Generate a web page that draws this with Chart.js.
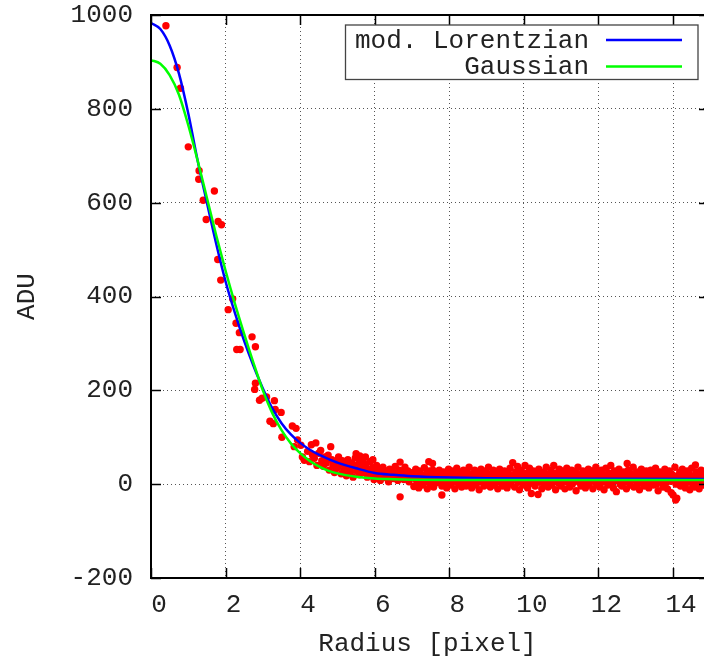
<!DOCTYPE html>
<html><head><meta charset="utf-8">
<script src="https://cdn.jsdelivr.net/npm/chart.js@4.4.0/dist/chart.umd.min.js"></script>
<style>html,body{margin:0;padding:0;background:#fff}canvas{display:block}</style>
</head><body>
<canvas id="c" width="708" height="664"></canvas>
<script>
// ---- data ----
const xTickValues = [0, 2, 4, 6, 8, 10, 12, 14];
const yTickValues = [-200, 0, 200, 400, 600, 800, 1000];
const seriesNames = ['mod. Lorentzian', 'Gaussian'];
const axisTitles = { x: 'Radius [pixel]', y: 'ADU' };

// fitted curves
const curveRadius = [0,0.25,0.5,0.75,1,1.25,1.5,1.75,2,2.25,2.5,2.75,3,3.25,3.5,3.75,4,4.25,4.5,4.75,5,5.5,6,6.5,7,8,9,10,12,15];
const lorentzADU  = [983,970,935,875,790,690,600,512,432,365,305,252,204,162,130,106,88,74,63,54,46,34,24,20,17,14,12.5,12,11.5,11];
const gaussADU    = [904,896,872,830,765,690,610,530,455,385,320,258,200,152,115,87,66,50,38,29,23,16,12,10.5,9.5,9,9,9,9,9];

// measured pixel values (radius, ADU)
const pointRadius = [
0.40,0.70,0.79,1.00,1.29,1.28,1.70,1.40,1.48,1.80,1.89,1.79,1.87,2.19,2.07,2.28,2.37,2.71,2.80,2.30,2.39,2.80,2.78,2.91,2.98,3.10,3.31,3.33,3.49,3.19,3.28,3.79,3.89,3.51,3.93,4.02,3.84,4.06,4.11,
4.20,4.25,4.30,4.33,4.38,4.42,4.45,4.50,4.55,4.58,4.62,4.66,4.70,4.75,4.78,4.82,4.85,4.88,4.92,4.95,5.00,5.03,5.06,5.10,5.13,5.17,5.20,5.24,5.28,5.31,5.35,5.38,5.42,5.45,5.48,5.52,5.55,5.59,5.62,5.65,5.70,5.73,5.76,5.80,5.84,5.87,5.91,5.94,5.98,
5.50,5.60,5.75,5.95,
6.01,6.05,6.08,6.12,6.15,6.19,6.22,6.26,6.30,6.33,6.37,6.40,6.44,6.48,6.51,6.55,6.58,6.62,6.66,6.68,6.68,6.70,6.74,6.78,6.81,6.85,6.89,6.92,6.96,7.00,7.45,7.55,
7.03,7.05,7.08,7.10,7.13,7.15,7.18,7.20,7.23,7.25,7.28,7.31,7.33,7.36,7.38,7.41,7.43,7.46,7.48,7.51,7.53,7.56,7.58,7.61,7.63,7.66,7.80,7.70,7.73,7.75,7.78,7.80,7.83,7.85,7.88,7.90,7.93,7.95,7.98,
8.00,8.03,8.05,8.08,8.10,8.13,8.15,8.18,8.20,8.23,8.25,8.28,8.30,8.33,8.35,8.38,8.40,8.43,8.45,8.48,8.50,8.53,8.55,8.58,8.60,8.63,8.65,8.68,8.70,8.73,8.75,8.78,8.80,8.83,8.85,8.88,8.90,8.93,8.95,8.98,
9.00,9.03,9.05,9.08,9.10,9.13,9.15,9.18,9.20,9.23,9.25,9.28,9.30,9.33,9.35,9.38,9.40,9.43,9.45,9.48,9.50,9.53,9.55,9.58,9.60,9.63,9.65,9.68,9.70,9.73,9.75,9.78,9.80,9.83,9.85,9.88,9.90,9.93,9.95,9.98,
10.00,10.03,10.05,10.08,10.10,10.13,10.15,10.18,10.20,10.23,10.25,10.28,10.30,10.33,10.35,10.38,10.40,10.43,10.45,10.48,10.50,10.53,10.55,10.58,10.60,10.63,10.65,10.68,10.70,10.73,10.75,10.78,10.80,10.83,10.85,10.88,10.90,10.93,10.95,10.98,
11.00,11.03,11.05,11.08,11.10,11.13,11.15,11.18,11.20,11.23,11.25,11.28,11.30,11.33,11.35,11.38,11.40,11.43,11.45,11.48,11.50,11.53,11.55,11.58,11.60,11.63,11.65,11.68,11.70,11.73,11.75,11.78,11.80,11.83,11.85,11.88,11.90,11.93,11.95,11.98,
12.00,12.03,12.05,12.08,12.10,12.13,12.15,12.18,12.20,12.23,12.25,12.28,12.30,12.33,12.35,12.38,12.40,12.43,12.45,12.48,12.50,12.53,12.55,12.58,12.60,12.63,12.65,12.68,12.70,12.73,12.75,12.77,12.78,12.80,12.83,12.85,12.88,12.90,12.93,12.95,12.98,
13.00,13.03,13.05,13.08,13.10,13.13,13.15,13.18,13.20,13.23,13.25,13.28,13.30,13.33,13.35,13.38,13.40,13.43,13.45,13.48,13.50,13.53,13.55,13.58,13.60,13.63,13.65,13.68,13.70,13.73,13.75,13.78,13.80,13.83,13.85,13.88,13.90,13.93,13.95,13.98,
14.00,14.03,14.05,14.07,14.08,14.10,14.13,14.15,14.18,14.20,14.23,14.25,14.28,14.30,14.33,14.35,14.38,14.40,14.43,14.45,14.48,14.50,14.53,14.55,14.58,14.60,14.60,14.63,14.65,14.68,14.70,14.73,14.75,14.78,14.80,14.83,14.86,14.90,14.94,14.98
];
const pointADU = [
977,888,844,719,668,650,625,605,564,560,553,479,435,395,372,343,323,314,293,287,287,215,202,179,183,186,178,159,153,134,129,124,119,100,94,83,80,58,51,
70,48,84,62,55,88,40,66,72,50,38,58,45,62,30,80,52,40,25,48,35,58,42,22,50,30,40,18,52,35,26,45,15,38,56,28,42,20,50,32,45,25,38,15,30,48,22,35,10,
65,60,58,52,
28,40,18,30,8,25,36,14,28,20,5,32,18,26,12,38,22,8,30,-27,47,16,25,10,36,18,28,5,22,14,48,44,
25,-5,12,32,2,18,-8,28,8,20,-2,15,35,5,22,-10,12,28,0,18,8,30,-6,14,24,3,-23,16,30,6,20,-4,12,26,2,18,-8,10,32,
4,22,-2,14,28,6,-10,18,34,8,0,24,12,-6,20,30,4,15,-4,26,10,36,2,18,-8,22,8,30,-2,14,24,4,-12,18,32,6,20,-4,12,28,
0,16,36,8,-6,22,10,30,-2,14,26,4,-10,18,32,6,20,-4,12,28,2,16,-8,24,8,34,0,18,46,10,-6,26,14,38,4,-12,20,30,8,-2,
16,40,6,24,-8,12,34,2,-20,18,28,8,-4,22,14,-22,32,4,20,-10,10,26,0,16,36,6,-6,22,12,30,-2,18,40,8,-12,24,14,2,32,10,
-4,20,28,6,-10,16,34,4,22,-6,12,30,0,18,8,26,-14,14,36,4,20,-4,10,28,2,16,-8,24,8,32,-2,18,12,28,-10,6,22,36,0,14,
26,-6,10,30,4,20,-12,16,34,6,-2,24,12,40,2,18,-8,28,8,-16,22,14,32,0,18,-4,10,26,4,20,-10,44,14,30,6,-2,22,12,36,-6,16,
8,26,0,18,-12,12,32,4,22,-4,14,28,2,18,-8,10,30,6,24,-2,16,34,0,20,-14,12,26,4,18,-6,10,32,2,22,-10,14,28,6,-18,20,
-23,12,36,-34,0,-30,18,8,26,-4,14,32,2,20,-8,10,28,4,22,-12,14,34,0,18,-6,8,41,26,2,20,-10,12,30,6,-2,16,24,10,-4,18
];

const scatterPoints = pointRadius.map((r, i) => ({ x: r, y: pointADU[i] }));
const lorentzPoints = curveRadius.map((r, i) => ({ x: r, y: lorentzADU[i] }));
const gaussPoints   = curveRadius.map((r, i) => ({ x: r, y: gaussADU[i] }));

const FONT = 'Liberation Mono';
const FS = 26;

const framePlugin = {
  id: 'frame',
  afterDatasetsDraw(chart) {
    const { ctx, chartArea: a, scales } = chart;
    ctx.save();
    // inward ticks
    ctx.strokeStyle = '#000';
    ctx.lineWidth = 1.5;
    ctx.beginPath();
    xTickValues.forEach(v => {
      const px = Math.round(scales.x.getPixelForValue(v)) + 0.5;
      ctx.moveTo(px, a.bottom); ctx.lineTo(px, a.bottom - 10);
      ctx.moveTo(px, a.top); ctx.lineTo(px, a.top + 10);
    });
    yTickValues.forEach(v => {
      const py = Math.round(scales.y.getPixelForValue(v)) + 0.5;
      ctx.moveTo(a.left, py); ctx.lineTo(a.left + 10, py);
      ctx.moveTo(a.right, py); ctx.lineTo(a.right - 5, py);
    });
    ctx.stroke();
    // frame
    ctx.lineWidth = 2;
    ctx.beginPath();
    ctx.moveTo(a.right, a.top); ctx.lineTo(a.left, a.top); ctx.lineTo(a.left, a.bottom); ctx.lineTo(a.right, a.bottom);
    ctx.stroke();
    // legend (key)
    const bx = 345.5, by = 25, bw = 352.5, bh = 54.5;
    ctx.fillStyle = '#fff';
    ctx.fillRect(bx, by, bw, bh);
    ctx.strokeStyle = '#444';
    ctx.lineWidth = 1.3;
    ctx.strokeRect(bx, by, bw, bh);
    ctx.font = FS + 'px "' + FONT + '"';
    ctx.fillStyle = '#222';
    ctx.textAlign = 'right';
    ctx.textBaseline = 'middle';
    const rows = [ { y: 40, ds: chart.data.datasets[1] }, { y: 66.5, ds: chart.data.datasets[2] } ];
    rows.forEach(r => {
      ctx.fillText(r.ds.label, 589, r.y + 1);
      ctx.strokeStyle = r.ds.borderColor;
      ctx.lineWidth = 2.5;
      ctx.beginPath();
      ctx.moveTo(606, r.y); ctx.lineTo(682, r.y);
      ctx.stroke();
    });
    ctx.restore();
  }
};

new Chart(document.getElementById('c'), {
  type: 'scatter',
  data: {
    datasets: [
      { label: 'data', data: scatterPoints, showLine: false, pointRadius: 3.7, pointBackgroundColor: '#ff0000', pointBorderWidth: 0, pointBorderColor: '#ff0000', order: 3 },
      { label: seriesNames[0], data: lorentzPoints, showLine: true, borderColor: '#0000ff', borderWidth: 2.5, pointRadius: 0, cubicInterpolationMode: 'monotone', fill: false, order: 2 },
      { label: seriesNames[1], data: gaussPoints, showLine: true, borderColor: '#00ff00', borderWidth: 2.5, pointRadius: 0, cubicInterpolationMode: 'monotone', fill: false, order: 1 }
    ]
  },
  options: {
    responsive: false,
    devicePixelRatio: 1,
    animation: false,
    layout: { padding: { top: 15, right: 0, left: 0, bottom: 0 } },
    plugins: { legend: { display: false }, tooltip: { enabled: false } },
    scales: {
      x: {
        type: 'linear', min: 0, max: 14.83,
        afterBuildTicks: s => { s.ticks = xTickValues.map(v => ({ value: v })); },
        afterFit: s => { s.height = 86; s.paddingLeft = 0; s.paddingRight = 0; },
        ticks: { padding: 12, labelOffset: 8, maxRotation: 0, color: '#222', font: { family: FONT, size: FS }, callback: v => String(v) },
        grid: { color: '#555', lineWidth: 1, drawTicks: false },
        border: { display: false, dash: [1, 3] },
        title: { display: true, text: axisTitles.x, color: '#222', font: { family: FONT, size: FS }, padding: { top: 0, bottom: 4 } }
      },
      y: {
        type: 'linear', min: -200, max: 1000,
        afterBuildTicks: s => { s.ticks = yTickValues.map(v => ({ value: v })); },
        afterFit: s => { s.width = 151; s.paddingTop = 0; s.paddingBottom = 0; },
        ticks: { padding: 18, color: '#222', font: { family: FONT, size: FS }, callback: v => String(v) },
        grid: { color: '#555', lineWidth: 1, drawTicks: false },
        border: { display: false, dash: [1, 3] },
        title: { display: true, text: axisTitles.y, color: '#222', font: { family: FONT, size: FS }, padding: { top: 12, bottom: 0 } }
      }
    }
  },
  plugins: [framePlugin]
});
</script>
</body></html>
